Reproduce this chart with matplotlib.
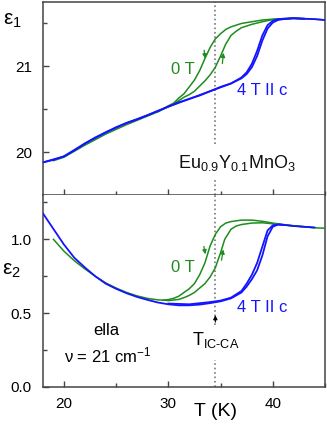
import matplotlib
matplotlib.use("Agg")
import matplotlib.pyplot as plt
from matplotlib.ticker import MultipleLocator, FormatStrFormatter

plt.rcParams['font.family'] = ['Liberation Sans', 'DejaVu Sans']
plt.rcParams['mathtext.fontset'] = 'custom'
plt.rcParams['mathtext.rm'] = 'Liberation Sans'
plt.rcParams['mathtext.it'] = 'Liberation Sans'

# ---------------- data: eps1 (top) ----------------
T_b1 = [18, 19, 20, 21, 22, 23, 24, 25, 26, 27, 28, 29, 30, 31, 32, 33, 34, 35, 36,
        37, 37.5, 38, 38.5, 39, 39.5, 40, 40.5, 41, 42, 43, 44, 45]
e1_blue_w = [19.88, 19.91, 19.95, 20.02, 20.10, 20.17, 20.23, 20.29, 20.34, 20.38, 20.43,
             20.48, 20.53, 20.58, 20.62, 20.66, 20.71, 20.76, 20.80, 20.86, 20.91, 20.99,
             21.12, 21.30, 21.44, 21.51, 21.54, 21.55, 21.56, 21.555, 21.55, 21.54]
T_b1c = [18, 20, 22, 24, 26, 28, 30, 32, 34, 36, 37, 37.5, 38, 38.5, 39, 39.5, 40,
         40.5, 41, 42, 43]
e1_blue_c = [19.88, 19.95, 20.10, 20.23, 20.34, 20.43, 20.53, 20.62, 20.71, 20.80, 20.87,
             20.93, 21.03, 21.18, 21.36, 21.48, 21.53, 21.55, 21.555, 21.56, 21.555]

T_g1c = [19, 20, 22, 24, 26, 28, 29, 30, 30.5, 31, 31.5, 32, 32.5, 33, 33.5, 34, 34.5,
         35, 35.5, 36, 36.5, 37, 38, 39, 40, 41, 42, 43, 44, 45]
e1_green_c = [19.90, 19.94, 20.08, 20.21, 20.32, 20.42, 20.47, 20.54, 20.57, 20.63, 20.68,
              20.76, 20.84, 20.95, 21.09, 21.22, 21.32, 21.38, 21.43, 21.46, 21.48, 21.50,
              21.52, 21.54, 21.55, 21.555, 21.56, 21.555, 21.55, 21.54]
T_g1w = [29, 30, 30.5, 31, 31.5, 32, 32.5, 33, 33.5, 34, 34.5, 35, 35.5, 36, 36.5, 37,
         38, 39, 40, 41, 42, 43]
e1_green_w = [20.47, 20.53, 20.56, 20.60, 20.64, 20.67, 20.71, 20.77, 20.83, 20.90, 20.99,
              21.12, 21.26, 21.36, 21.41, 21.45, 21.49, 21.52, 21.545, 21.555, 21.56, 21.555]

# orange (third sweep, mostly hidden) - visible segments only
T_o1a = [21.5, 22, 22.5, 23]
e1_orange_a = [20.05, 20.09, 20.13, 20.16]
T_o1b = [29, 29.5, 30, 30.5]
e1_orange_b = [20.48, 20.505, 20.53, 20.555]
T_o1c = [41.5, 42, 42.5, 43]
e1_orange_c = [21.56, 21.565, 21.56, 21.555]

# ---------------- data: eps2 (bottom) ----------------
T_b2 = [18, 19, 20, 21, 22, 23, 24, 25, 26, 27, 28, 29, 30, 31, 32, 33, 34, 35, 36,
        37, 37.5, 38, 38.5, 39, 39.5, 40, 40.5, 41, 42, 43, 44]
e2_blue_w = [1.175, 1.07, 0.965, 0.875, 0.81, 0.75, 0.70, 0.665, 0.635, 0.61, 0.59, 0.572,
             0.56, 0.553, 0.553, 0.558, 0.568, 0.58, 0.60, 0.64, 0.68, 0.73, 0.79, 0.89,
             1.02, 1.085, 1.10, 1.098, 1.09, 1.085, 1.08]
T_b2c = [30, 32, 34, 35, 36, 37, 37.5, 38, 38.5, 39, 39.5, 40, 40.5, 41]
e2_blue_c = [0.565, 0.56, 0.575, 0.585, 0.605, 0.65, 0.70, 0.76, 0.84, 0.95, 1.06, 1.095,
             1.10, 1.098]

T_g2c = [19, 20, 21, 22, 23, 24, 25, 26, 27, 28, 29, 29.5, 30, 30.5, 31, 31.5, 32, 32.5,
         33, 33.5, 34, 34.5, 35, 35.5, 36, 37, 38, 39, 40, 41, 42, 43, 43.8]
e2_green_c = [1.0, 0.92, 0.855, 0.80, 0.75, 0.705, 0.67, 0.64, 0.617, 0.60, 0.59, 0.588,
              0.592, 0.60, 0.615, 0.64, 0.665, 0.70, 0.76, 0.84, 0.955, 1.034, 1.085, 1.11,
              1.12, 1.13, 1.13, 1.122, 1.11, 1.10, 1.092, 1.085, 1.08]
T_g2w = [29.5, 30, 31, 31.5, 32, 32.5, 33, 33.5, 34, 34.5, 35, 35.4, 36, 36.5, 37, 38,
         39, 40, 41, 42, 43, 44, 45]
e2_green_w = [0.588, 0.585, 0.593, 0.605, 0.62, 0.64, 0.67, 0.70, 0.745, 0.807, 0.909, 1.0,
              1.068, 1.09, 1.10, 1.11, 1.112, 1.105, 1.098, 1.09, 1.085, 1.078, 1.075]

T_o2a = [23.5, 24, 25, 26, 27, 28, 28.5]
e2_orange_a = [0.727, 0.702, 0.667, 0.638, 0.613, 0.594, 0.586]
T_o2b = [41, 41.5, 42, 42.5, 43, 43.5]
e2_orange_b = [1.098, 1.094, 1.09, 1.087, 1.085, 1.083]

T_trans = 34.5

BLUE = '#1414ff'
GREEN = '#1e8c1e'
ORANGE = '#ff8c00'
AXC = '#444444'
DOT = '#7a7a7a'

fig = plt.figure(figsize=(3.27, 4.24), dpi=100)
W, H = 327.0, 424.0
ax1 = fig.add_axes([43 / W, 1 - 195 / H, 282 / W, 193 / H])
ax2 = fig.add_axes([43 / W, 1 - 387 / H, 282 / W, 192 / H])

for ax in (ax1, ax2):
    for s in ax.spines.values():
        s.set_color(AXC)
        s.set_linewidth(1.1)
    ax.set_xlim(18, 45)
    ax.xaxis.set_major_locator(MultipleLocator(10))
    ax.xaxis.set_minor_locator(MultipleLocator(5))
    ax.tick_params(which='both', direction='in', color=AXC, top=False, right=False,
                   labelsize=11, width=1.0)
    ax.tick_params(which='major', length=4.5)
    ax.tick_params(which='minor', length=3)
    ax.tick_params(axis='y', pad=8)
    ax.tick_params(axis='x', pad=7)

ax2.spines['top'].set_visible(False)

LW = 1.3
# top panel
ax1.set_ylim(19.5, 21.75)
ax1.yaxis.set_major_locator(MultipleLocator(1))
ax1.yaxis.set_minor_locator(MultipleLocator(0.5))
ax1.tick_params(axis='x', labelbottom=False)

for tt, vv in ((T_o1a, e1_orange_a), (T_o1b, e1_orange_b), (T_o1c, e1_orange_c)):
    ax1.plot(tt, vv, color=ORANGE, lw=1.0, ls=(0, (2, 1)), zorder=2)
ax1.plot(T_g1c, e1_green_c, color=GREEN, lw=1.1, zorder=3)
ax1.plot(T_g1w, e1_green_w, color=GREEN, lw=1.1, zorder=3)
ax1.plot(T_b1, e1_blue_w, color=BLUE, lw=LW, zorder=4)
ax1.plot(T_b1c, e1_blue_c, color=BLUE, lw=LW, zorder=4)

ax1.plot([T_trans, T_trans], [20.10, 21.75], color=DOT, lw=1.2, ls=':', zorder=1)
ax1.plot([T_trans, T_trans], [19.5, 19.68], color=DOT, lw=1.2, ls=':', zorder=1)

ax1.text(31.4, 20.96, '0 T', color=GREEN, fontsize=12, ha='center', va='center')
ax1.text(36.6, 20.72, '4 T II c', color=BLUE, fontsize=12, ha='left', va='center')
ax1.text(30.9, 19.82, r'Eu$_{\mathrm{0.9}}$Y$_{\mathrm{0.1}}$MnO$_{\mathrm{3}}$',
         fontsize=13, ha='left', va='baseline', color='#111111')

arr = dict(arrowstyle='-|>', color=GREEN, lw=0.9, mutation_scale=6)
ax1.annotate('', xy=(33.55, 21.06), xytext=(33.4, 21.22), arrowprops=arr)
ax1.annotate('', xy=(35.3, 21.19), xytext=(35.15, 21.0), arrowprops=arr)

# bottom panel
ax2.set_ylim(0, 1.3)
ax2.yaxis.set_major_locator(MultipleLocator(0.5))
ax2.yaxis.set_minor_locator(MultipleLocator(0.25))
ax2.yaxis.set_major_formatter(FormatStrFormatter('%.1f'))

for tt, vv in ((T_o2a, e2_orange_a), (T_o2b, e2_orange_b)):
    ax2.plot(tt, vv, color=ORANGE, lw=1.0, ls=(0, (2, 1)), zorder=2)
ax2.plot(T_g2c, e2_green_c, color=GREEN, lw=1.1, zorder=3)
ax2.plot(T_g2w, e2_green_w, color=GREEN, lw=1.1, zorder=3)
ax2.plot(T_b2, e2_blue_w, color=BLUE, lw=LW, zorder=4)
ax2.plot(T_b2c, e2_blue_c, color=BLUE, lw=LW, zorder=4)

ax2.plot([T_trans, T_trans], [0.42, 1.3], color=DOT, lw=1.2, ls=':', zorder=1)
ax2.plot([T_trans, T_trans], [0.0, 0.18], color=DOT, lw=1.2, ls=':', zorder=1)
ax2.annotate('', xy=(T_trans, 0.505), xytext=(T_trans, 0.42),
             arrowprops=dict(arrowstyle='-|>', color='black', lw=0.8, mutation_scale=6))

ax2.text(31.4, 0.81, '0 T', color=GREEN, fontsize=12, ha='center', va='center')
ax2.text(36.6, 0.54, '4 T II c', color=BLUE, fontsize=12, ha='left', va='center')
ax2.annotate('', xy=(33.6, 0.88), xytext=(33.35, 0.97), arrowprops=arr)
ax2.annotate('', xy=(35.3, 0.95), xytext=(35.05, 0.84), arrowprops=arr)

ax2.text(24.1, 0.38, 'ella', fontsize=12, ha='center', va='center')
ax2.text(20.0, 0.216, r'ν = 21 cm$^{\mathrm{-1}}$', fontsize=12, ha='left', va='center')
ax2.text(32.3, 0.284, r'T$_{\text{IC-CA}}$', fontsize=13, ha='left', va='baseline')

# axis labels
fig.text(3 / W, 1 - 21 / H, r'ε$_{\mathrm{1}}$', fontsize=15, ha='left', va='center')
fig.text(2 / W, 1 - 270 / H, r'ε$_{\mathrm{2}}$', fontsize=15, ha='left', va='center')
fig.text(215 / W, 1 - 411 / H, 'T (K)', fontsize=14, ha='center', va='center')

fig.savefig('out.png', dpi=100)
